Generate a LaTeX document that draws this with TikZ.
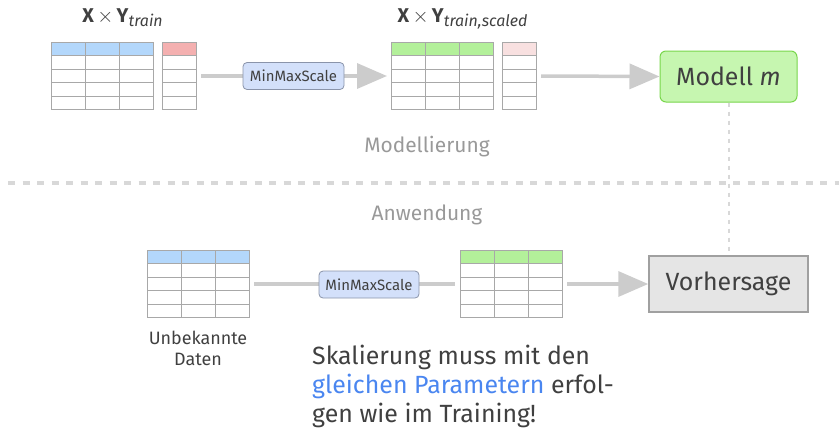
\documentclass[tikz,border=0pt]{standalone}
\usepackage{fontspec}
\setmainfont{Fira Sans}
\usetikzlibrary{arrows.meta,calc}
\definecolor{hblue}{HTML}{B3D7FB}
\definecolor{hred}{HTML}{F4B0B0}
\definecolor{hgreen}{HTML}{B3F09A}
\definecolor{hpink}{HTML}{F8E0E0}
\definecolor{gridc}{HTML}{A8A8A8}
\definecolor{arrc}{HTML}{CCCCCC}
\definecolor{mmfill}{HTML}{D3E0FA}
\definecolor{mmdraw}{HTML}{8A94AA}
\definecolor{txt}{HTML}{404040}
\definecolor{lbl}{HTML}{999999}
\definecolor{bluetxt}{HTML}{4A86F0}
\definecolor{modfill}{HTML}{C6F6B0}
\definecolor{moddraw}{HTML}{78D64B}
\definecolor{predfill}{HTML}{E5E5E5}
\definecolor{preddraw}{HTML}{A0A0A0}
\definecolor{sepc}{HTML}{D8D8D8}
\newcommand\mytable[5]{% name, left x, top y, ncols, header colour
  \fill[#5] (#2,#3) rectangle ++(#4*34,13.5);
  \foreach \r in {0,13.5,27,40.5,54,67.5} \draw[gridline] (#2,#3+\r) -- ++(#4*34,0);
  \foreach \c in {0,...,#4} \draw[gridline] (#2+\c*34,#3) -- ++(0,67.5);
  \coordinate (#1-w) at (#2,#3+34);
  \coordinate (#1-e) at (#2+#4*34,#3+34);
}
\newcommand\subtxt[1]{\raisebox{-0.4ex}{\fontsize{16}{18}\selectfont\itshape #1}}
\tikzset{
  gridline/.style={draw=gridc,line width=1bp},
  flow/.style={draw=arrc,line width=3.5bp},
  flowarrow/.style={flow,-{Triangle[length=30bp,width=25bp]}},
  scalebox/.style={draw=mmdraw,fill=mmfill,rounded corners=4bp,line width=0.8bp,inner sep=0,
     minimum height=27bp,font=\fontsize{15}{17}\selectfont,text=txt},
  phase/.style={font=\fontsize{21}{24}\selectfont,text=lbl},
  title/.style={font=\fontsize{20}{23}\selectfont,text=txt},
  bigbox/.style={font=\fontsize{25}{28}\selectfont,text=txt}
}
\begin{document}
\begin{tikzpicture}[x=1bp,y=-1bp]
\useasboundingbox (0,0) rectangle (839,431);
% separator
\draw[sepc,line width=4bp,dash pattern=on 7bp off 7.5bp] (8,183) -- (839,183);
% top tables
\mytable{tx}{51}{42}{3}{hblue}
\mytable{ty}{162}{42}{1}{hred}
\mytable{sx}{391}{42}{3}{hgreen}
\mytable{sy}{502}{42}{1}{hpink}
% bottom tables
\mytable{ux}{147}{250}{3}{hblue}
\mytable{vx}{460}{250}{3}{hgreen}

\node[title] (t1) at (122.5,18) {\textbf{X}\,$\times$\,\textbf{Y}\subtxt{train}};
\node[title] (t2) at (462.5,19) {\textbf{X}\,$\times$\,\textbf{Y}\subtxt{train,scaled}};

\node[bigbox,draw=moddraw,fill=modfill,rounded corners=6bp,line width=1bp,minimum width=137bp,minimum height=51bp]
  (mod) at (728.5,76.5) {Modell \textit{m}};
\node[bigbox,draw=preddraw,fill=predfill,line width=1.5bp,minimum width=159bp,minimum height=56bp]
  (pred) at (728.5,284) {Vorhersage};

\draw[sepc,line width=2bp,dash pattern=on 4bp off 5bp] (mod.south) -- (pred.north);

% top flow
\coordinate (a1s) at ($(ty-e)+(5,0)$);
\coordinate (a1e) at ($(sx-w)+(-4,0)$);
\draw[flowarrow] (a1s) -- (a1e);
\node[scalebox,minimum width=101bp] (mm1) at (293.5,76) {MinMaxScale};
\coordinate (a2s) at ($(sy-e)+(5,0)$);
\draw[flowarrow] (a2s) -- (mod.west);

% bottom flow
\coordinate (b1s) at ($(ux-e)+(5,0)$);
\coordinate (b1e) at ($(vx-w)+(-5,0)$);
\draw[flow] (b1s) -- (b1e);
\node[scalebox,minimum width=100bp] (mm2) at (369,284.5) {MinMaxScale};
\coordinate (b2s) at ($(vx-e)+(5,0)$);
\draw[flowarrow] (b2s) -- (pred.west);

% labels
\node[phase] (ph1) at (427,147) {Modellierung};
\node[phase] (ph2) at (427,215) {Anwendung};
\node[align=center,font=\fontsize{18}{21}\selectfont,text=txt] (unk) at (198,348) {Unbekannte\\Daten};
\node[anchor=north west,align=left,inner sep=0,font=\fontsize{25}{29}\selectfont,text=txt] (note) at (312,345)
  {Skalierung muss mit den\\\textcolor{bluetxt}{gleichen Parametern} erfol-\\gen wie im Training!};
\end{tikzpicture}
\end{document}
